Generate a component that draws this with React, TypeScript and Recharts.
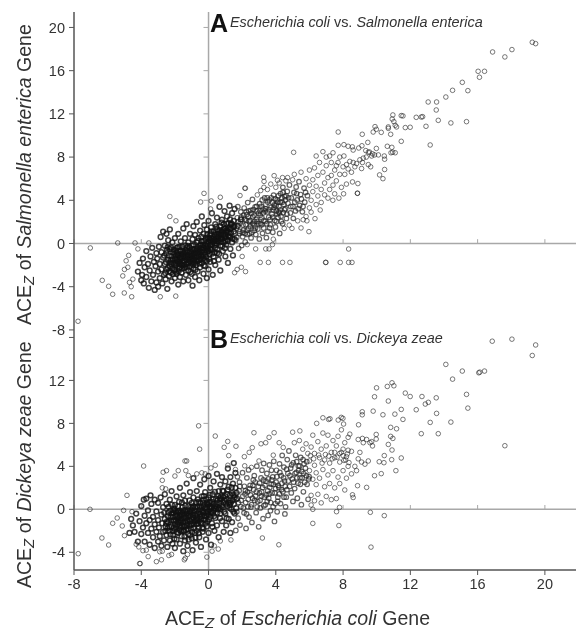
import { ScatterChart, Scatter, XAxis, YAxis, ReferenceLine } from 'recharts';

const xTicks = [-8, -4, 0, 4, 8, 12, 16, 20];
const yTicksA = [-8, -4, 0, 4, 8, 12, 16, 20];
const yTicksB = [-4, 0, 4, 8, 12, 16];

// sparse points
const outliersA = [
  [19.25,18.63],[19.45,18.5],[18.04,17.95],[17.62,17.27],[16.89,17.73],[16.03,15.94],[16.41,15.94],[16.11,15.39],[15.09,14.92],[14.51,14.18],
  [15.42,14.15],[14.11,13.56],[13.06,13.1],[13.56,13.1],[13.54,12.36],[13.66,11.4],[14.41,11.16],[15.34,11.28],[12.93,10.85],[12.35,11.68],
  [12.65,11.71],[12.73,11.74],[13.18,9.12],[11.99,10.76],[11.7,10.73],[11.46,9.46],[11.56,11.81],[11.46,11.84],[10.96,11.9],[10.92,11.52],
  [11.02,11.28],[11.1,10.94],[11.18,10.79],[10.69,10.79],[10.69,10.66],[10.83,10.11],[9.9,10.82],[9.98,10.57],[9.79,10.32],[10.27,10.29],
  [9.14,10.11],[7.71,10.32],[7.71,9.09],[8.05,9.15],[8.3,9.0],[8.55,8.95],[8.6,8.65],[10.37,6.0],[10.17,6.35],[10.47,6.85],
  [8.33,-0.51],[6.96,-1.75],[6.98,-1.75],[4.84,-1.75],[7.83,-1.75],[8.33,-1.75],[8.53,-1.75],[3.07,-1.75],[3.56,-1.75],[4.4,-1.75],
  [-7.76,-7.2],[-7.03,-0.41],[-5.4,0.05],[-4.37,0.05],[-6.32,-3.41],[-5.94,-3.96],[-5.7,-4.7],[-5.01,-4.58],[-4.57,-4.93],[-2.87,-4.93],
  [-1.95,-4.87],[-2.3,2.5],[-1.94,2.1],[-0.27,4.64],[-0.47,3.84],[0.16,3.94],[0.7,4.28],[0.12,3.2],[2.19,5.11],[2.16,5.12],
  [1.87,4.44],[3.28,6.13],[3.9,6.28],[3.3,5.75],[3.29,5.2],[4.1,5.85],[4.4,6.1],[4.7,6.1],[5.06,8.44],[2.0,-1.2],
  [1.7,-2.4],[1.55,-2.7],[1.95,-2.2],[2.2,-2.6],[2.3,-0.1],[2.8,-0.5],[3.4,-0.5],[3.8,-0.1],[3.85,0.4],[3.6,-0.5],
  [-5.1,-3.0],[-5.0,-2.4],[-4.9,-1.6],[-4.8,-2.2],[-4.7,-3.6],[-4.6,-4.0],[-4.5,-3.3],[-4.75,-1.1],[-4.2,-0.5],[-3.55,0.05],
];

const bandA = [
  [2.9,4.5],[3.1,4.9],[3.5,5.0],[3.7,5.5],[4.0,5.2],[4.2,5.6],[4.6,5.8],[5.0,5.9],[5.1,6.4],[4.96,1.4],
  [4.5,1.4],[4.8,1.7],[5.3,2.1],[5.5,1.44],[5.5,6.6],[5.63,2.2],[5.8,2.5],[5.8,6.0],[5.85,2.1],[5.97,1.1],
  [6.0,6.8],[6.0,3.3],[6.0,5.4],[6.1,4.0],[6.1,2.9],[6.2,5.9],[6.2,4.8],[6.33,2.3],[6.3,7.0],[6.4,8.1],
  [6.4,3.6],[6.4,5.3],[6.5,4.4],[6.5,6.3],[6.64,3.1],[6.6,7.5],[6.7,5.0],[6.7,3.8],[6.8,8.5],[6.8,6.6],
  [6.9,5.6],[6.9,4.5],[7.0,7.2],[7.0,8.0],[7.1,4.2],[7.1,6.1],[7.2,8.1],[7.2,5.0],[7.3,6.3],[7.3,7.5],
  [7.39,4.0],[7.4,5.4],[7.4,8.4],[7.5,6.8],[7.5,4.6],[7.6,7.2],[7.6,5.8],[7.7,7.5],[7.75,4.2],[7.8,6.4],
  [7.8,8.0],[7.9,5.2],[8.0,7.1],[8.03,4.6],[8.1,6.4],[8.2,7.3],[8.2,5.5],[8.3,6.9],[8.4,7.6],[8.56,5.7],
  [8.5,6.6],[8.7,7.1],[8.8,7.4],[8.86,4.65],[8.85,4.65],[8.88,5.55],[8.93,8.84],[9.1,6.94],[9.12,9.05],[9.2,7.9],
  [9.38,8.0],[9.47,9.36],[9.5,7.3],[9.57,8.47],[9.64,7.1],[9.75,8.3],[9.87,8.2],[9.98,8.8],[10.1,8.2],[10.45,8.1],
  [10.47,7.8],[10.63,9.0],[10.85,8.4],[10.9,8.9],[11.1,8.4],[10.95,8.45],[9.35,8.6],[9.5,8.45],[9.7,8.1],[9.0,7.75],
  [9.15,7.5],[8.6,7.5],[8.05,8.1],
];

const midA = [
  [1.62,0.3],[1.66,1.42],[1.71,2.38],[1.74,3.41],[1.79,-0.45],[1.83,0.92],[1.88,1.87],[1.92,2.93],[1.97,-0.18],[2.03,0.63],
  [2.07,1.24],[2.12,3.28],[2.14,2.22],[2.18,0.14],[2.22,1.73],[2.27,2.68],[2.31,0.84],[2.33,3.79],[2.38,1.41],[2.42,2.03],
  [2.46,2.14],[2.51,3.07],[2.53,0.52],[2.58,1.03],[2.61,4.08],[2.64,2.47],[2.69,1.72],[2.72,1.21],[2.77,3.38],[2.81,0.83],
  [2.84,2.23],[2.93,1.34],[2.97,2.81],[3.02,0.42],[3.04,3.68],[3.09,1.84],[3.17,2.39],[3.21,0.94],[3.23,3.17],[3.28,1.43],
  [3.33,4.22],[3.37,2.04],[3.41,3.63],[3.44,0.54],[3.48,2.92],[3.53,1.13],[3.58,2.43],[3.62,4.03],[3.67,1.74],[3.71,3.34],
  [3.77,2.72],[3.82,1.04],[3.87,4.48],[3.91,3.58],[3.94,2.13],[3.98,1.53],[4.03,3.02],[4.08,4.04],[4.13,2.41],[4.19,3.42],
  [4.23,0.93],[4.28,4.62],[4.33,2.03],[4.38,3.83],[4.42,5.2],[4.44,2.84],[4.53,4.33],[4.58,3.22],[4.63,2.32],[4.68,4.82],
  [4.72,3.72],[4.81,5.42],[4.87,2.83],[4.92,4.22],[5.02,3.43],[5.04,2.33],[5.08,4.72],[5.17,3.02],[5.21,5.23],[5.27,4.03],
  [5.38,5.72],[5.42,3.53],[5.47,4.53],[5.58,2.93],[5.68,5.13],[5.72,3.83],[5.88,4.43],[2.05,1.71],[2.24,2.92],[2.36,2.47],
  [2.49,1.62],[2.66,3.14],[2.74,2.03],[2.88,3.02],[3.07,2.62],[3.13,3.44],[3.26,2.84],[3.39,3.21],[3.52,3.84],[3.66,2.23],
  [3.79,3.82],[3.84,3.12],[4.02,3.52],[4.16,4.42],[4.27,3.12],[4.36,4.22],[4.48,3.62],[4.61,4.43],[4.76,4.23],[4.89,3.42],
  [5.13,3.83],[5.24,4.62],[5.33,3.22],[5.52,4.12],[5.62,3.42],[5.77,4.73],[4.07,2.72],[4.21,2.83],[4.41,1.83],[4.66,2.72],
  [1.58,0.92],[1.68,0.58],[1.76,2.02],[1.86,1.12],[1.94,2.44],[2.01,1.02],[2.09,2.63],[2.16,0.93],[2.26,2.14],[2.29,1.23],
  [2.39,3.02],[2.44,0.93],[2.56,2.81],[2.62,1.84],[2.71,2.63],[2.79,1.43],[2.86,3.44],[2.91,2.04],[2.99,1.83],[3.06,3.03],
  [3.16,1.73],[3.19,4.03],[3.29,2.13],[3.36,3.02],[3.46,1.83],[3.49,4.23],[3.59,3.13],[3.63,1.44],[3.73,4.23],[3.81,2.43],
  [3.89,3.33],[3.96,4.13],[4.04,2.03],[4.11,3.83],[4.17,2.93],[4.26,3.83],[4.31,2.53],[4.43,4.73],[4.51,3.13],[4.57,4.03],
];

const coreA = [
  [-4.2,-2.6],[-4.1,-1.8],[-4.0,-3.4],[-3.95,-2.9],[-3.9,-1.4],[-3.85,-3.7],[-3.8,-2.2],[-3.7,-0.7],[-3.7,-3.1],[-3.6,-1.9],
  [-3.55,-4.1],[-3.5,-2.5],[-3.45,-1.2],[-3.4,-3.5],[-3.35,-0.4],[-3.3,-2.9],[-3.25,-1.7],[-3.2,-4.3],[-3.15,-2.1],[-3.1,-0.9],
  [-3.1,-3.6],[-3.05,-1.4],[-3.0,-2.6],[-3.0,-4.0],[-2.95,-0.3],[-2.9,-3.2],[-2.9,-1.9],[-2.85,0.6],[-2.8,-2.4],[-2.8,-0.8],
  [-2.75,-3.7],[-2.7,-1.3],[-2.7,1.1],[-2.65,-2.9],[-2.6,-0.2],[-2.6,-1.9],[-2.55,-3.3],[-2.5,-2.4],[-2.5,-0.9],[-2.5,0.9],
  [-2.45,-4.2],[-2.4,-1.5],[-2.4,0.3],[-2.35,-3.0],[-2.3,-2.1],[-2.3,-0.5],[-2.3,1.3],[-2.25,-2.7],[-2.2,-1.2],[-2.2,-3.5],
  [-2.15,0.1],[-2.1,-1.8],[-2.1,-0.8],[-2.05,-2.4],[-2.0,-3.2],[-2.0,-1.4],[-2.0,0.5],[-1.95,-2.0],[-1.9,-0.4],[-1.9,-2.8],
  [-1.85,-1.0],[-1.8,-3.8],[-1.8,-1.7],[-1.8,0.9],[-1.75,-2.3],[-1.7,-0.7],[-1.7,-1.3],[-1.7,-3.1],[-1.65,0.2],[-1.6,-2.0],
  [-1.6,-1.0],[-1.6,-2.7],[-1.55,-0.3],[-1.5,-1.6],[-1.5,1.4],[-1.5,-3.5],[-1.45,-2.3],[-1.4,-0.9],[-1.4,0.5],[-1.4,-1.3],
  [-1.35,-2.9],[-1.3,-1.9],[-1.3,-0.4],[-1.3,1.8],[-1.25,-1.1],[-1.2,-2.5],[-1.2,-3.4],[-1.2,0.1],[-1.15,-1.6],[-1.1,-0.7],
  [-1.1,-2.1],[-1.1,0.9],[-1.05,-1.2],[-1.0,-2.8],[-1.0,-0.2],[-1.0,-1.8],[-0.95,-3.9],[-0.95,0.4],[-0.9,-1.0],[-0.9,-2.3],
  [-0.9,1.6],[-0.85,-1.5],[-0.8,-0.5],[-0.8,-3.1],[-0.8,0.8],[-0.75,-2.0],[-0.7,-1.2],[-0.7,0.1],[-0.7,2.0],[-0.65,-2.6],
  [-0.6,-0.8],[-0.6,-1.6],[-0.6,0.5],[-0.55,-3.4],[-0.5,-0.2],[-0.5,-2.2],[-0.5,1.2],[-0.45,-1.1],[-0.4,-1.8],[-0.4,0.2],
  [-0.4,2.5],[-0.35,-0.6],[-0.3,-2.8],[-0.3,0.9],[-0.3,-1.4],[-0.25,1.7],[-0.2,-0.2],[-0.2,-2.1],[-0.2,-1.0],[-0.15,0.5],
  [-0.1,-1.6],[-0.1,1.3],[-0.1,-3.2],[-0.05,-0.5],[0.0,0.2],[0.0,-2.4],[0.0,2.1],[0.05,-1.0],[0.1,0.8],[0.1,-0.1],
  [0.1,-1.7],[0.15,1.5],[0.2,-0.6],[0.2,0.4],[0.2,2.8],[0.25,-2.9],[0.3,-1.2],[0.3,1.1],[0.35,0.0],[0.4,-0.4],
  [0.4,1.8],[0.4,-2.0],[0.45,0.6],[0.5,2.4],[0.5,-0.9],[0.5,1.3],[0.55,0.2],[0.6,-1.5],[0.6,0.9],[0.65,3.4],
  [0.7,-0.2],[0.7,1.6],[0.7,-2.5],[0.75,0.5],[0.8,2.2],[0.8,1.1],[0.85,-0.7],[0.9,0.1],[0.9,1.8],[0.95,3.0],
  [1.0,0.7],[1.0,-1.2],[1.0,1.4],[1.05,-0.1],[1.1,2.5],[1.1,0.4],[1.15,-1.8],[1.2,1.0],[1.2,1.9],[1.25,3.5],
  [1.3,-0.5],[1.3,0.6],[1.35,1.4],[1.4,2.8],[1.4,0.1],[1.45,-1.1],[1.5,1.1],[1.5,2.1],[1.55,3.2],[1.55,0.4],
  [-2.2,-1.9],[-2.0,-2.5],[-1.8,-1.1],[-1.6,-1.4],[-1.4,-2.2],[-1.2,-1.4],[-1.0,-1.1],[-0.8,-1.8],[-0.6,-1.2],[-0.4,-0.8],
  [-0.2,-0.6],[0.0,-0.7],[0.2,-0.1],[0.4,0.3],[0.6,0.3],[0.8,0.4],[1.0,0.2],[-1.9,-1.5],[-1.7,-2.2],[-1.5,-0.9],
  [-1.3,-1.5],[-1.1,-1.3],[-0.9,-0.6],[-0.7,-0.9],[-0.5,-1.5],[-0.3,-0.4],[-0.1,0.0],[0.1,0.3],[0.3,0.6],[0.5,0.0],
];

// extra ones for the near-black middle of the cloud
const denseA = [
  [-2.53,-1.72],[-2.47,-0.62],[-2.41,-2.27],[-2.36,-1.13],[-2.28,-1.74],[-2.24,-0.36],[-2.17,-2.33],[-2.13,-1.47],[-2.08,-0.57],[-2.03,-1.93],
  [-1.98,-1.13],[-1.94,-2.64],[-1.89,-0.83],[-1.83,-1.62],[-1.78,-2.57],[-1.73,-0.32],[-1.69,-1.86],[-1.64,-1.23],[-1.58,-2.33],[-1.53,-0.73],
  [-1.48,-1.27],[-1.43,-1.97],[-1.38,-0.17],[-1.33,-1.07],[-1.28,-2.17],[-1.23,-0.83],[-1.18,-1.83],[-1.13,-0.37],[-1.08,-2.63],[-1.03,-1.47],
  [-0.98,-0.53],[-0.93,-1.97],[-0.88,-0.13],[-0.83,-1.23],[-0.78,-2.43],[-0.73,-0.67],[-0.68,-1.63],[-0.63,0.23],[-0.58,-1.03],[-0.53,-1.87],
  [-0.48,-0.43],[-0.43,0.63],[-0.38,-1.23],[-0.33,-0.13],[-0.28,-2.03],[-0.23,-0.83],[-0.18,0.33],[-0.13,-1.23],[-0.08,0.83],[-0.03,-0.23],
  [0.03,-1.43],[0.07,0.47],[0.12,-0.53],[0.17,1.13],[0.22,-0.93],[0.27,0.17],[0.32,-1.63],[0.37,0.83],[0.42,-0.17],[0.47,1.57],
  [0.52,-0.53],[0.57,0.63],[0.62,-0.97],[0.67,1.23],[0.72,0.17],[0.77,1.93],[0.82,-0.23],[0.87,0.83],[0.92,1.37],[0.97,-0.43],
  [1.03,1.03],[1.08,1.83],[1.13,0.23],[1.18,1.43],[1.23,0.63],[1.28,2.23],[1.33,0.97],[1.38,1.83],[1.43,0.43],[1.48,1.53],
  [-2.57,-2.73],[-2.33,-2.57],[-2.12,-2.83],[-1.92,-1.83],[-1.72,-1.57],[-1.52,-2.03],[-1.32,-1.23],[-1.12,-1.63],[-0.92,-1.33],[-0.72,-1.53],
  [-0.52,-0.93],[-0.32,-1.07],[-0.12,-0.37],[0.08,-0.43],[0.28,0.43],[0.48,0.83],[0.68,0.43],[0.88,1.23],[1.08,1.23],[1.28,1.33],
  [-2.63,-1.13],[-2.43,-0.33],[-2.23,-1.53],[-2.03,-0.93],[-1.83,-0.33],[-1.63,-0.63],[-1.43,-1.63],[-1.23,-0.23],[-1.03,-0.83],[-0.83,-0.83],
  [-0.63,-0.33],[-0.43,-1.47],[-0.23,-1.53],[-0.03,0.53],[0.17,0.13],[0.37,-0.83],[0.57,1.13],[0.77,0.73],[0.97,0.53],[1.17,0.73],
  [-1.87,-1.37],[-1.67,-1.03],[-1.47,-1.07],[-1.27,-0.73],[-1.07,-0.97],[-0.87,-1.73],[-0.67,-0.53],[-0.47,-0.13],[-0.27,0.23],[-0.07,-0.73],
  [-1.97,-0.63],[-1.77,-1.93],[-1.57,-1.77],[-1.37,-0.63],[-1.17,-1.17],[-0.97,-1.53],[-0.77,-1.13],[-0.57,-0.63],[-0.37,-0.37],[-0.17,-0.17],
  [0.13,0.93],[0.33,0.27],[0.53,0.43],[0.73,0.97],[0.93,0.87],[1.13,1.17],[1.33,1.77],[1.53,1.63],[1.73,1.63],[1.93,2.23],
];

const outliersB = [
  [18.04,15.84],[16.87,15.65],[19.45,15.3],[19.25,14.32],[14.11,13.49],[15.09,12.87],[14.51,12.12],[16.07,12.71],[16.13,12.77],[16.41,12.87],
  [15.34,10.7],[15.42,9.42],[14.41,8.12],[17.62,5.92],[13.66,7.04],[12.65,7.04],[13.18,8.09],[13.56,8.93],[12.35,9.27],[13.54,10.38],
  [12.69,10.5],[12.89,9.8],[13.07,9.96],[11.99,10.5],[11.7,10.82],[10.91,11.78],[11.02,11.5],[10.63,11.44],[9.99,11.31],[9.87,10.48],
  [10.69,10.08],[11.46,9.3],[11.56,8.37],[11.08,8.86],[10.37,8.8],[9.79,9.14],[9.14,9.08],[9.14,8.8],[8.92,7.87],[10.83,7.63],
  [11.18,7.5],[10.83,6.79],[10.96,6.6],[9.97,6.97],[9.97,6.54],[10.69,6.04],[10.91,5.52],[11.46,4.78],[10.89,4.62],[10.45,5.0],
  [10.15,4.43],[10.43,4.34],[11.14,3.6],[10.27,3.32],[9.87,3.13],[9.4,2.04],[8.86,2.2],[9.62,-0.28],[10.45,-0.59],[9.66,-3.52],
  [7.75,-1.51],[6.2,-1.31],[7.79,0.18],[7.61,-0.22],[6.2,0.0],[6.8,8.52],[7.14,8.37],[7.22,8.43],[7.71,8.31],[7.89,8.56],
  [7.99,8.47],[6.43,8.0],[8.03,7.94],[5.43,7.3],[5.0,7.18],[-7.75,-4.13],[-7.05,0.0],[-6.34,-2.67],[-5.94,-3.32],[-5.7,-1.3],
  [-5.43,-0.81],[-5.13,-1.55],[-4.85,1.3],[-5.05,-0.1],[-4.55,-0.22],[-5.0,-2.45],[-3.86,4.03],[-4.1,-5.05],[-4.06,-5.05],[-3.59,-4.4],
  [-3.1,-4.87],[-2.8,-4.7],[-0.59,7.77],[-0.53,5.6],[0.4,6.82],[1.14,6.32],[0.93,5.77],[1.63,5.87],[1.2,5.0],[2.7,7.13],
  [3.9,7.13],[3.6,6.7],[3.12,6.1],[3.4,6.2],[2.6,5.74],[2.42,5.3],[2.13,4.9],[4.2,6.2],[4.44,5.76],[3.85,5.04],
  [0.4,4.1],[0.14,3.85],[-1.4,4.5],[-1.3,4.5],[-1.8,3.6],[-2.5,3.6],[-2.7,3.45],[-2.0,3.1],[-2.75,2.7],[-2.75,2.0],
  [-2.55,1.9],[4.18,-3.3],[3.2,-2.67],[-0.1,-4.45],[0.34,-3.4],[0.58,-3.7],[0.21,-3.9],[1.33,-2.85],[0.7,-2.95],[-1.38,-4.55],
  [-1.44,-4.7],[-2.36,-4.3],[-2.2,-4.2],[-2.9,-3.95],[-2.75,-3.9],[-4.3,-3.25],[-4.15,-3.5],[-3.9,-3.85],[-3.7,-3.8],[-1.25,-4.2],
  [-1.35,3.6],[-1.2,3.15],[-0.7,3.3],[-0.4,3.4],[-0.2,3.3],[1.15,4.1],[1.6,3.7],[2.15,4.05],[2.55,3.9],[3.0,4.5],
];

const bandB = [
  [5.1,6.2],[5.4,6.4],[5.6,5.6],[5.8,6.1],[5.9,5.2],[6.0,4.5],[6.0,3.6],[6.1,5.8],[6.1,1.3],[6.1,0.4],
  [6.2,2.8],[6.2,6.9],[6.3,4.1],[6.3,0.8],[6.3,5.2],[6.4,2.3],[6.4,3.4],[6.5,6.3],[6.5,1.4],[6.6,4.8],
  [6.6,2.9],[6.7,5.6],[6.7,0.6],[6.8,3.7],[6.8,7.1],[6.9,2.1],[6.9,4.6],[7.0,5.9],[7.0,1.2],[7.1,3.2],
  [7.1,6.9],[7.2,4.3],[7.2,2.4],[7.3,5.3],[7.3,0.9],[7.4,3.6],[7.4,6.4],[7.5,2.0],[7.5,4.8],[7.6,5.9],
  [7.6,1.0],[7.7,3.0],[7.7,6.8],[7.8,4.4],[7.8,2.4],[7.9,5.3],[7.9,7.4],[8.0,3.6],[8.0,5.0],[8.1,1.8],
  [8.1,6.2],[8.15,4.6],[8.2,4.9],[8.2,2.9],[8.3,6.7],[8.3,4.0],[8.4,7.0],[8.5,3.3],[8.5,5.4],[8.56,1.35],
  [8.6,1.1],[8.7,4.0],[8.8,3.6],[8.9,4.7],[8.9,6.5],[9.0,5.3],[9.1,4.4],[9.15,6.6],[9.2,6.2],[9.3,4.2],
  [9.4,6.5],[9.5,4.5],[9.6,6.2],[9.7,6.3],[9.75,5.9],[8.3,5.5],[8.0,5.6],[7.8,5.2],[7.5,5.3],[8.25,5.15],
  [8.05,4.55],[8.35,4.35],[7.65,4.85],[7.35,4.7],[7.15,4.95],[6.95,5.1],[6.75,4.3],[6.55,5.05],[6.25,4.7],[6.05,5.0],
];

const midB = [
  [1.62,-1.97],[1.64,0.92],[1.72,3.02],[1.76,-0.83],[1.82,1.73],[1.84,2.53],[1.92,0.24],[1.87,-1.47],[2.02,3.41],[2.04,1.22],
  [2.11,-0.33],[2.13,2.14],[2.21,0.63],[2.23,-1.78],[2.28,2.93],[2.32,1.62],[2.41,-0.72],[2.38,3.67],[2.52,0.21],[2.47,2.23],
  [2.62,1.03],[2.58,-1.22],[2.72,3.13],[2.68,1.82],[2.83,-0.31],[2.77,2.54],[2.92,0.73],[2.87,4.02],[3.03,1.52],[2.98,-1.63],
  [3.12,2.92],[3.08,0.13],[3.22,2.03],[3.18,3.64],[3.24,-0.87],[3.32,1.13],[3.28,4.27],[3.42,2.62],[3.38,0.43],[3.52,1.73],
  [3.47,3.34],[3.54,-0.57],[3.62,4.13],[3.58,1.03],[3.72,2.34],[3.68,-0.13],[3.82,3.02],[3.78,1.52],[3.92,-1.13],[3.88,4.47],
  [3.97,0.53],[4.02,2.53],[4.04,3.63],[4.12,1.13],[4.08,-0.23],[4.22,4.23],[4.18,2.03],[4.32,3.13],[4.28,0.53],[4.42,1.63],
  [4.38,5.02],[4.52,2.63],[4.48,3.93],[4.54,-0.43],[4.62,1.13],[4.58,0.23],[4.72,3.34],[4.68,4.63],[4.82,2.13],[4.78,5.43],
  [4.92,1.53],[4.88,3.83],[5.02,0.73],[4.98,2.83],[5.04,4.33],[5.12,1.93],[5.22,3.43],[5.18,5.03],[5.32,2.43],[5.28,1.03],
  [5.34,4.03],[5.44,2.93],[5.52,0.43],[5.48,4.83],[5.54,3.53],[5.64,1.63],[5.72,2.53],[5.68,4.23],[5.82,3.13],[5.92,0.93],
  [2.17,1.43],[2.34,0.23],[2.44,1.93],[2.64,2.23],[2.74,0.83],[2.84,1.63],[3.04,2.43],[3.14,1.23],[3.26,2.73],[3.44,1.33],
  [3.56,2.83],[3.64,2.03],[3.74,3.63],[3.86,2.33],[3.94,1.53],[4.06,3.03],[4.14,2.23],[4.24,3.43],[4.34,1.83],[4.46,2.93],
  [4.56,2.13],[4.64,3.73],[4.74,2.63],[4.84,3.13],[4.94,4.13],[5.06,2.53],[5.14,3.33],[5.26,2.93],[5.36,3.63],[5.46,2.33],
  [5.56,2.93],[5.66,3.33],[5.76,3.83],[5.86,2.33],[5.96,2.83],[5.24,4.43],[5.42,4.03],[5.62,4.63],[5.84,4.43],[5.98,3.03],
  [1.58,1.33],[1.68,-0.23],[1.78,0.63],[1.86,2.13],[1.94,0.83],[2.07,0.13],[2.19,1.73],[2.26,-0.43],[2.36,0.93],[2.49,1.33],
  [2.56,0.43],[2.66,2.73],[2.79,1.23],[2.89,0.23],[2.96,2.13],[3.06,0.83],[3.16,1.63],[3.29,0.33],[3.36,2.23],[3.49,0.73],
  [3.61,1.43],[3.69,0.63],[3.76,2.73],[3.84,0.23],[3.99,1.93],[4.11,0.73],[4.21,1.43],[4.36,2.43],[4.49,1.13],[4.66,1.83],
];

const coreB = [
  [-4.7,-2.2],[-4.6,-0.9],[-4.5,-1.5],[-4.4,-2.1],[-4.3,-0.4],[-4.2,-3.0],[-4.1,-1.1],[-4.0,0.3],[-4.0,-2.3],[-3.9,-1.7],
  [-3.85,0.9],[-3.8,-0.6],[-3.8,-3.0],[-3.7,-1.3],[-3.7,1.0],[-3.6,-2.2],[-3.6,-0.1],[-3.5,-3.3],[-3.5,-1.0],[-3.45,1.3],
  [-3.4,-1.8],[-3.4,0.5],[-3.3,-2.6],[-3.3,-0.7],[-3.2,-3.6],[-3.2,-1.4],[-3.2,0.9],[-3.1,-2.1],[-3.1,-0.2],[-3.0,-1.0],
  [-3.0,-3.0],[-3.0,0.6],[-2.95,-1.7],[-2.9,-2.5],[-2.85,1.1],[-2.8,-0.5],[-2.8,-3.4],[-2.75,-1.3],[-2.7,0.2],[-2.7,-2.1],
  [-2.65,-2.9],[-2.6,-0.9],[-2.6,1.4],[-2.55,-1.6],[-2.5,0.5],[-2.5,-2.4],[-2.45,-3.5],[-2.4,-0.3],[-2.4,-1.2],[-2.35,-2.0],
  [-2.3,-2.9],[-2.3,0.9],[-2.25,-0.7],[-2.2,-1.6],[-2.2,1.7],[-2.15,-3.2],[-2.1,-0.1],[-2.1,-2.4],[-2.05,-1.1],[-2.0,0.4],
  [-2.0,-1.9],[-2.0,-3.6],[-1.95,-0.6],[-1.9,-2.8],[-1.9,1.2],[-1.85,-1.4],[-1.8,-0.2],[-1.8,-2.2],[-1.75,0.7],[-1.7,-1.0],
  [-1.7,-3.2],[-1.7,2.0],[-1.65,-1.7],[-1.6,-0.5],[-1.6,-2.5],[-1.55,0.2],[-1.5,-1.2],[-1.5,1.3],[-1.5,-3.9],[-1.45,-2.0],
  [-1.4,-0.1],[-1.4,-2.9],[-1.4,0.8],[-1.35,-0.8],[-1.3,-1.5],[-1.3,2.4],[-1.25,-3.4],[-1.2,0.3],[-1.2,-2.3],[-1.15,-0.4],
  [-1.1,-1.1],[-1.1,1.6],[-1.05,-1.8],[-1.0,-2.7],[-1.0,0.6],[-1.0,-0.1],[-0.95,-3.8],[-0.9,-0.8],[-0.9,1.1],[-0.9,2.9],
  [-0.85,-1.4],[-0.8,-2.2],[-0.8,0.2],[-0.75,-3.1],[-0.7,-0.4],[-0.7,1.7],[-0.65,-1.0],[-0.6,0.7],[-0.6,-1.7],[-0.55,-2.6],
  [-0.5,0.0],[-0.5,2.3],[-0.5,-0.7],[-0.45,-3.5],[-0.4,1.2],[-0.4,-1.3],[-0.35,-2.1],[-0.3,0.3],[-0.3,-0.3],[-0.25,2.8],
  [-0.2,-1.0],[-0.2,1.6],[-0.15,-2.8],[-0.1,0.6],[-0.1,-1.6],[-0.05,-0.2],[0.0,1.1],[0.0,-2.2],[0.0,3.1],[0.05,0.2],
  [0.1,-0.7],[0.1,2.0],[0.15,-3.3],[0.2,-1.3],[0.2,0.7],[0.25,1.4],[0.3,-0.1],[0.3,2.6],[0.35,-2.0],[0.4,0.3],
  [0.4,-0.8],[0.45,1.0],[0.5,3.3],[0.5,-1.5],[0.55,0.0],[0.6,1.7],[0.6,-2.6],[0.65,0.6],[0.7,-0.4],[0.7,2.3],
  [0.75,1.2],[0.8,-1.1],[0.8,3.0],[0.85,0.2],[0.9,-2.1],[0.9,1.7],[0.95,0.8],[1.0,-0.4],[1.0,2.6],[1.05,-1.5],
  [1.1,0.3],[1.1,1.4],[1.15,3.8],[1.2,-0.9],[1.2,2.1],[1.25,0.8],[1.3,-2.2],[1.3,3.0],[1.35,0.0],[1.4,1.5],
  [1.4,-1.2],[1.45,2.4],[1.5,0.5],[1.5,4.3],[1.55,-0.4],[1.55,1.1],[1.6,3.4],[1.6,2.0],[1.65,0.1],[1.7,1.0],
  [-2.2,-0.4],[-2.0,-1.4],[-1.8,-1.2],[-1.6,-1.0],[-1.4,-1.6],[-1.2,-0.6],[-1.0,-0.9],[-0.8,-1.0],[-0.6,-0.3],[-0.4,-0.6],
  [-0.2,0.1],[0.0,-0.5],[0.2,0.2],[-1.9,-0.3],[-1.7,-0.6],[-1.5,-0.1],[-1.3,-0.4],[-1.1,-0.2],[-0.9,0.3],[-0.7,-1.4],
  [-0.5,0.6],[-0.3,0.9],[-0.1,0.2],[0.1,0.7],[0.3,0.5],[-2.1,-1.0],[-1.5,-2.0],[-1.1,-2.4],[-0.7,-2.0],[-0.3,-1.8],
];

const denseB = [
  [-2.47,-1.13],[-2.42,-0.63],[-2.37,0.23],[-2.33,-1.63],[-2.27,-2.33],[-2.23,-1.03],[-2.18,0.43],[-2.12,-0.73],[-2.07,-1.73],[-2.03,-2.73],
  [-1.97,-0.17],[-1.93,-1.03],[-1.88,-2.13],[-1.82,0.27],[-1.78,-0.83],[-1.73,-1.53],[-1.68,-0.33],[-1.63,-2.03],[-1.58,0.63],[-1.53,-0.83],
  [-1.48,-1.53],[-1.43,-2.53],[-1.38,0.33],[-1.33,-0.23],[-1.28,-1.03],[-1.23,-1.83],[-1.18,-2.83],[-1.13,0.83],[-1.08,-0.63],[-1.03,-1.43],
  [-0.98,-2.13],[-0.93,0.13],[-0.88,-0.33],[-0.83,-1.13],[-0.78,-2.63],[-0.73,0.63],[-0.68,-0.83],[-0.63,-1.33],[-0.58,-2.23],[-0.53,0.23],
  [-0.48,-0.43],[-0.43,-0.93],[-0.38,-1.73],[-0.33,0.63],[-0.28,1.23],[-0.23,-0.63],[-0.18,-1.33],[-0.13,0.93],[-0.08,-0.43],[-0.03,0.43],
  [0.03,-0.93],[0.07,1.33],[0.12,0.23],[0.17,-0.33],[0.23,-1.63],[0.28,0.93],[0.33,-0.63],[0.38,1.63],[0.43,0.03],[0.48,0.53],
  [0.53,-0.33],[0.58,1.23],[0.63,0.13],[0.68,-0.83],[0.73,0.93],[0.78,0.33],[0.83,1.73],[0.88,0.63],[0.93,-0.23],[0.98,1.23],
  [1.03,0.53],[1.08,-0.83],[1.13,1.83],[1.18,0.63],[1.23,0.13],[1.28,1.33],[1.33,0.63],[1.38,2.03],[1.43,0.83],[1.48,-0.23],
  [-2.63,-0.33],[-2.57,-2.03],[-2.52,-1.33],[-2.43,-1.73],[-2.28,-0.13],[-2.08,-0.33],[-1.87,-0.63],[-1.67,-1.23],[-1.47,-0.53],[-1.27,-1.33],
  [-1.07,-0.33],[-0.87,-1.73],[-0.67,0.23],[-0.47,-1.23],[-0.27,-0.93],[-0.07,-1.13],[0.13,-0.23],[0.33,0.13],[0.53,0.83],[0.73,0.03],
  [-2.13,-2.03],[-1.93,-1.63],[-1.73,-1.93],[-1.53,-0.33],[-1.33,-1.93],[-1.13,-1.53],[-0.93,-0.53],[-0.73,-0.93],[-0.53,-0.43],[-0.33,-0.23],
  [-0.13,-0.63],[0.07,0.03],[0.27,-0.33],[0.47,0.23],[0.67,1.03],[0.87,1.13],[1.07,0.93],[1.27,0.43],[1.47,1.33],[1.67,1.53],
  [-1.77,-0.13],[-1.57,-1.53],[-1.37,-1.13],[-1.17,-0.93],[-0.97,-1.33],[-0.77,-0.53],[-0.57,-1.13],[-0.37,-0.13],[-0.17,-0.33],[0.02,0.63],
  [-2.03,0.03],[-1.83,-0.83],[-1.63,-0.23],[-1.43,-0.73],[-1.23,-0.13],[-1.03,0.23],[-0.83,-0.13],[-0.63,0.93],[-0.43,0.23],[-0.23,0.43],
];

const toPoints = (rows: number[][]) => rows.map(([x, y]) => ({ x, y }));

const AXIS_COLOR = '#555';
const GUIDE_COLOR = '#a8a8a8';
const TEXT_COLOR = '#333';
const FONT = '"Liberation Sans", Arial, sans-serif';
const tickStyle = { fontSize: 14.5, fill: TEXT_COLOR, fontFamily: FONT };

function Ring(props: any) {
  return <circle cx={props.cx} cy={props.cy} r={2.3} fill="none" stroke="#222" strokeOpacity={0.6} strokeWidth={1} />;
}

function MidRing(props: any) {
  return <circle cx={props.cx} cy={props.cy} r={2.3} fill="none" stroke="#222" strokeOpacity={0.7} strokeWidth={1.2} />;
}

function HeavyRing(props: any) {
  return <circle cx={props.cx} cy={props.cy} r={2.4} fill="none" stroke="#111" strokeOpacity={0.8} strokeWidth={1.5} />;
}

// little ticks that sit on the zero lines
function zeroTicks(yTicks: number[], yMax: number) {
  return (
    <>
      <ReferenceLine x={0} stroke={GUIDE_COLOR} strokeWidth={1.5} ifOverflow="hidden" />
      <ReferenceLine y={0} stroke={GUIDE_COLOR} strokeWidth={1.5} ifOverflow="hidden" />
      {yTicks.filter((t) => t !== 0 && t <= yMax).map((t) => (
        <ReferenceLine key={`y${t}`} segment={[{ x: -0.3, y: t }, { x: 0, y: t }]} stroke={GUIDE_COLOR} />
      ))}
      {xTicks.filter((t) => t !== 0).map((t) => (
        <ReferenceLine key={`x${t}`} segment={[{ x: t, y: 0 }, { x: t, y: 0.4 }]} stroke={GUIDE_COLOR} />
      ))}
    </>
  );
}

function AxisTitle({ x, y, rotate, name, rest }: { x: number; y: number; rotate?: boolean; name: string; rest: string }) {
  return (
    <text
      x={x}
      y={y}
      transform={rotate ? `rotate(-90 ${x} ${y})` : undefined}
      fontSize={19.5}
      fontFamily={FONT}
      fill={TEXT_COLOR}
    >
      ACE
      <tspan fontSize={15} fontStyle="italic" dy={2.5}>Z</tspan>
      <tspan dy={-2.5}> of </tspan>
      <tspan fontStyle="italic">{name}</tspan>
      {rest}
    </text>
  );
}

function PanelTitle({ letter, y, first, second }: { letter: string; y: number; first: string; second: string }) {
  return (
    <>
      <text x={210} y={y + 5} fontSize={25} fontWeight="bold" fontFamily={FONT} fill="#111">{letter}</text>
      <text x={230} y={y} fontSize={14.4} fontFamily={FONT} fill={TEXT_COLOR}>
        <tspan fontStyle="italic">{first}</tspan> vs. <tspan fontStyle="italic">{second}</tspan>
      </text>
    </>
  );
}

export default function App() {
  return (
    <div style={{ position: 'absolute', left: 0, top: 0, width: 576, height: 631, background: '#fff', overflow: 'hidden', filter: 'blur(0.45px)' }}>
      <div style={{ position: 'absolute', left: 0, top: 0 }}>
        <ScatterChart width={576} height={345} margin={{ top: 12, right: 0, bottom: 14, left: 0 }}>
          <XAxis type="number" dataKey="x" domain={[-8, 21.85]} hide allowDataOverflow />
          <YAxis
            type="number"
            dataKey="y"
            width={74}
            domain={[-8.1, 21.43]}
            ticks={yTicksA}
            interval={0}
            allowDataOverflow
            tick={tickStyle}
            tickSize={5}
            tickMargin={4}
            tickLine={{ stroke: AXIS_COLOR }}
            axisLine={{ stroke: AXIS_COLOR, strokeWidth: 1.5 }}
          />
          {zeroTicks(yTicksA, 20)}
          <Scatter data={toPoints([...outliersA, ...bandA])} shape={Ring} isAnimationActive={false} />
          <Scatter data={toPoints(midA)} shape={MidRing} isAnimationActive={false} />
          <Scatter data={toPoints([...coreA, ...denseA])} shape={HeavyRing} isAnimationActive={false} />
        </ScatterChart>
      </div>
      <div style={{ position: 'absolute', left: 0, top: 331 }}>
        <ScatterChart width={576} height={300} margin={{ top: 0, right: 0, bottom: 0, left: 0 }}>
          <XAxis
            type="number"
            dataKey="x"
            domain={[-8, 21.85]}
            ticks={xTicks}
            interval={0}
            height={61}
            allowDataOverflow
            tick={tickStyle}
            tickSize={5}
            tickMargin={4}
            tickLine={{ stroke: AXIS_COLOR }}
            axisLine={{ stroke: AXIS_COLOR, strokeWidth: 1.5 }}
          />
          <YAxis
            type="number"
            dataKey="y"
            width={74}
            domain={[-5.65, 16.6]}
            ticks={yTicksB}
            interval={0}
            allowDataOverflow
            tick={tickStyle}
            tickSize={5}
            tickMargin={4}
            tickFormatter={(v: number) => (v === 16 ? '' : String(v))}
            tickLine={{ stroke: AXIS_COLOR }}
            axisLine={{ stroke: AXIS_COLOR, strokeWidth: 1.5 }}
          />
          {zeroTicks(yTicksB, 16)}
          <Scatter data={toPoints([...outliersB, ...bandB])} shape={Ring} isAnimationActive={false} />
          <Scatter data={toPoints(midB)} shape={MidRing} isAnimationActive={false} />
          <Scatter data={toPoints([...coreB, ...denseB])} shape={HeavyRing} isAnimationActive={false} />
        </ScatterChart>
      </div>
      <svg width={576} height={631} style={{ position: 'absolute', left: 0, top: 0, pointerEvents: 'none' }}>
        <PanelTitle letter="A" y={27} first="Escherichia coli" second="Salmonella enterica" />
        <PanelTitle letter="B" y={343} first="Escherichia coli" second="Dickeya zeae" />
        <AxisTitle x={31} y={325} rotate name="Salmonella enterica" rest=" Gene" />
        <AxisTitle x={31} y={588} rotate name="Dickeya zeae" rest=" Gene" />
        <AxisTitle x={165} y={625} name="Escherichia coli" rest=" Gene" />
      </svg>
    </div>
  );
}
